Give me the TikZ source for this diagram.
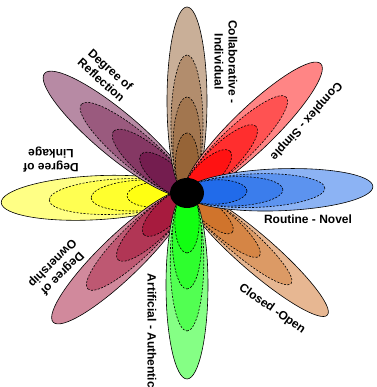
\documentclass[tikz,border=0pt]{standalone}
\usepackage{fontspec}
\setmainfont{Liberation Sans}

\definecolor{petalyellow}{HTML}{FFFF00}
\definecolor{petalpurple}{HTML}{6A0C42}
\definecolor{petalbrown}{HTML}{8E5828}
\definecolor{petalred}{HTML}{FF0000}
\definecolor{petalorange}{HTML}{CC6A1C}
\definecolor{petalblue}{HTML}{1060E8}
\definecolor{petaldarkred}{HTML}{A00A30}
\definecolor{petalgreen}{HTML}{00FF00}

\tikzset{
  petal/.style={draw=black, line width=0.6pt},
  layer/.style={draw=black, line width=0.6pt, dash pattern=on 2pt off 1.5pt},
  axislabel/.style={font=\fontsize{12}{14}\selectfont\bfseries, align=center, inner sep=0pt}
}

\begin{document}
\begin{tikzpicture}[x=1pt,y=1pt]
            \useasboundingbox (0,0) rectangle (376,387);
            \coordinate (ctr) at (187,194);
            % petals, outer shell first, then the nested layers
            \foreach \ang/\wid/\col in {183/22/petalyellow, 140/22/petalpurple, 90/20/petalbrown,
                44/21/petalred, -41/18/petalorange, 2/21/petalblue, -136/21/petaldarkred, -90/21/petalgreen}{
                \begin{scope}[shift={(ctr)}, rotate=\ang]
                    \draw[petal, fill=\col!48!white] (92,0) ellipse (94pt and \wid pt);
                    \draw[layer, fill=\col!68!white] (68,0) ellipse (70pt and 0.8*\wid pt);
                    \draw[layer, fill=\col!82!white] (47,0) ellipse (49pt and 0.7*\wid pt);
                    \draw[layer, fill=\col!93!white] (29,0) ellipse (31pt and 0.58*\wid pt);
                \end{scope}
            }
            \fill[black] (ctr) ellipse (17pt and 15pt);
            % labels
            \node[axislabel, rotate=-90] (collab) at (226,325) {Collaborative -\\Individual};
            \node[axislabel, rotate=228] (complex) at (306,266) {Complex - Simple};
            \node[axislabel] (routine) at (308,168) {Routine - Novel};
            \node[axislabel, rotate=-35] (closed) at (272,78) {Closed -Open};
            \node[axislabel, rotate=-90] (artificial) at (152,56) {Artificial - Authentic};
            \node[axislabel, rotate=225] (ownership) at (57,119) {Degree of\\Ownership};
            \node[axislabel, rotate=180] (linkage) at (51,227) {Degree of\\Linkage};
            \node[axislabel, rotate=-42] (reflection) at (106,312) {Degree of\\Reflection};
        \end{tikzpicture}
\end{document}
